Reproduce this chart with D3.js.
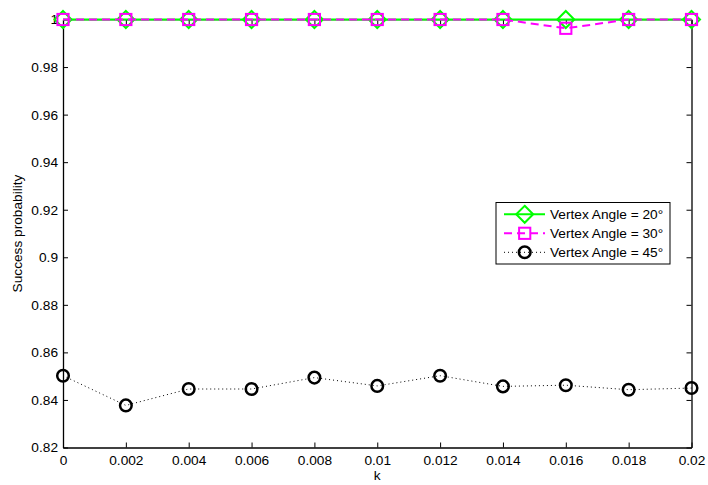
<!DOCTYPE html>
<html>
<head>
<meta charset="utf-8">
<script src="https://cdn.jsdelivr.net/npm/d3@7"></script>
<style>
  html, body { margin: 0; padding: 0; background: #fff; }
  svg { display: block; font-family: "Liberation Sans", Arial, Helvetica, sans-serif; }
</style>
</head>
<body>
<svg id="chart" width="708" height="485"></svg>
<script>
// k values along the horizontal axis
const kValues = [0, 0.002, 0.004, 0.006, 0.008, 0.01, 0.012, 0.014, 0.016, 0.018, 0.02];
// success probability per vertex angle
const angle20 = [1, 1, 1, 1, 1, 1, 1, 1, 1, 1, 1];
const angle30 = [1, 1, 1, 1, 1, 1, 1, 1, 0.9963, 1, 1];
const angle45 = [0.8502, 0.8377, 0.8446, 0.8446, 0.8494, 0.8459, 0.8502, 0.8457, 0.8462, 0.8443, 0.8450];
// tick labels
const xTicks = [0, 0.002, 0.004, 0.006, 0.008, 0.01, 0.012, 0.014, 0.016, 0.018, 0.02];
const xTickLabels = ["0", "0.002", "0.004", "0.006", "0.008", "0.01", "0.012", "0.014", "0.016", "0.018", "0.02"];
const yTicks = [0.82, 0.84, 0.86, 0.88, 0.9, 0.92, 0.94, 0.96, 0.98, 1];
const yTickLabels = ["0.82", "0.84", "0.86", "0.88", "0.9", "0.92", "0.94", "0.96", "0.98", "1"];
const seriesNames = ["Vertex Angle = 20°", "Vertex Angle = 30°", "Vertex Angle = 45°"];

const svg = d3.select("#chart");
const L = 63, R = 691.5, T = 19.5, B = 447.5;

const x = d3.scaleLinear().domain([0, 0.02]).range([L, R]);
const y = d3.scaleLinear().domain([0.82, 1]).range([B, T]);

const tickLen = 5;
const fontSize = 13.7;

// axes with inward ticks
const gx = svg.append("g").attr("transform", `translate(0,${B})`)
  .call(d3.axisBottom(x).tickValues(xTicks).tickSizeInner(-tickLen).tickSizeOuter(0)
    .tickPadding(7.5).tickFormat((d, i) => xTickLabels[i]));
const gxt = svg.append("g").attr("transform", `translate(0,${T})`)
  .call(d3.axisTop(x).tickValues(xTicks).tickSizeInner(-tickLen).tickSizeOuter(0).tickFormat(""));
const gy = svg.append("g").attr("transform", `translate(${L},0)`)
  .call(d3.axisLeft(y).tickValues(yTicks).tickSizeInner(-tickLen).tickSizeOuter(0)
    .tickPadding(5).tickFormat((d, i) => yTickLabels[i]));
const gyr = svg.append("g").attr("transform", `translate(${R},0)`)
  .call(d3.axisRight(y).tickValues(yTicks).tickSizeInner(-tickLen).tickSizeOuter(0).tickFormat(""));

[gx, gxt, gy, gyr].forEach(g => {
  g.select(".domain").attr("stroke", "#000").attr("stroke-width", 1.3);
  g.selectAll(".tick line").attr("stroke", "#000").attr("stroke-width", 1);
  g.selectAll(".tick text").attr("fill", "#000").style("font-size", fontSize + "px")
    .style("font-family", "'Liberation Sans', Arial, sans-serif");
});
gxt.select(".domain").attr("stroke", "#999");

// axis titles
svg.append("text").attr("x", (L + R) / 2).attr("y", 480).attr("text-anchor", "middle")
  .style("font-size", fontSize + "px").text("k");
svg.append("text").attr("transform", `translate(22,${(T + B) / 2}) rotate(-90)`)
  .attr("text-anchor", "middle").style("font-size", fontSize + "px").text("Success probability");

const line = d3.line().x((d, i) => x(kValues[i])).y(d => y(d));

const styles = [
  { data: angle20, color: "#00ff00", width: 2, dash: null, marker: "diamond" },
  { data: angle30, color: "#ff00ff", width: 2, dash: "8,5", marker: "square" },
  { data: angle45, color: "#000000", width: 1, dash: "1,3", marker: "circle" }
];

function drawMarker(g, type, cx, cy, color) {
  if (type === "diamond") {
    const h = 8.5;
    g.append("path").attr("d", `M${cx},${cy - h}L${cx + h},${cy}L${cx},${cy + h}L${cx - h},${cy}Z`)
      .attr("fill", "none").attr("stroke", color).attr("stroke-width", 2);
  } else if (type === "square") {
    const s = 5.6;
    g.append("rect").attr("x", cx - s).attr("y", cy - s).attr("width", 2 * s).attr("height", 2 * s)
      .attr("fill", "none").attr("stroke", color).attr("stroke-width", 2);
  } else {
    g.append("circle").attr("cx", cx).attr("cy", cy).attr("r", 5.8)
      .attr("fill", "none").attr("stroke", color).attr("stroke-width", 2.5);
  }
}

styles.forEach(s => {
  const g = svg.append("g");
  g.append("path").attr("d", line(s.data)).attr("fill", "none")
    .attr("stroke", s.color).attr("stroke-width", s.width)
    .attr("stroke-dasharray", s.dash);
  s.data.forEach((v, i) => drawMarker(g, s.marker, x(kValues[i]), y(v), s.color));
});

// legend
const lg = svg.append("g");
lg.append("rect").attr("x", 496).attr("y", 202.5).attr("width", 174).attr("height", 61.5)
  .attr("fill", "#fff").attr("stroke", "#000").attr("stroke-width", 1);
styles.forEach((s, i) => {
  const cy = 214.3 + i * 19;
  lg.append("line").attr("x1", 504).attr("x2", 545).attr("y1", cy).attr("y2", cy)
    .attr("stroke", s.color).attr("stroke-width", s.width).attr("stroke-dasharray", s.dash);
  drawMarker(lg, s.marker, 524.7, cy, s.color);
  lg.append("text").attr("x", 550).attr("y", cy + 5).style("font-size", fontSize + "px")
    .text(seriesNames[i]);
});
</script>
</body>
</html>
